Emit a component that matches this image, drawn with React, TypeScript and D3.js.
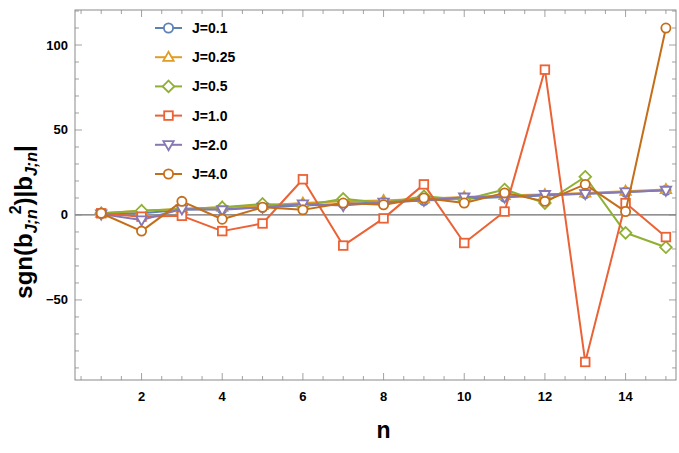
import React from "react";
import * as d3 from "d3";

// values of sgn(b^2)|b| for n = 1..15
const nValues = [1, 2, 3, 4, 5, 6, 7, 8, 9, 10, 11, 12, 13, 14, 15];
const j01 = [1, 1, 3, 3.5, 4.5, 5.5, 6.5, 7.5, 8.5, 9.5, 10.5, 11.5, 12.5, 13.5, 14.5];
const j025 = [1, 2.5, 3.5, 4.5, 5.5, 7, 8, 8.5, 9.5, 10.5, 11.5, 12, 13, 14, 15];
const j05 = [1, 2.5, 3.5, 4.5, 6.5, 5.5, 9.5, 7, 11, 9, 15, 7, 22.5, -10.5, -19];
const j10 = [1, -1, -0.5, -9.5, -5, 21, -18, -2, 18, -16.5, 2, 85.5, -86.5, 7, -13];
const j20 = [0.5, -3, 3.5, 3, 4.5, 6.5, 5.5, 7.5, 8.5, 10.5, 10.5, 12, 12.5, 13.5, 14.5];
const j40 = [1, -9.5, 8, -2.5, 4.5, 3, 7, 6, 10, 7, 13, 8, 18, 2, 110];

const seriesLabels = ["J=0.1", "J=0.25", "J=0.5", "J=1.0", "J=2.0", "J=4.0"];
const seriesValues = [j01, j025, j05, j10, j20, j40];
const colors = ["#5E81B5", "#E19C24", "#8FB032", "#EB6235", "#8778B3", "#C56E1A"];
const markers = ["circle", "up", "diamond", "square", "down", "circle"];

const xTickLabels = [2, 4, 6, 8, 10, 12, 14];
const yTickLabels = [-50, 0, 50, 100];

const W = 679;
const H = 453;
const left = 75;
const right = 676;
const top = 10;
const bottom = 380;

const Marker = ({ kind, x, y, color }) => {
  const sw = 1.8;
  if (kind === "circle")
    return <circle cx={x} cy={y} r={4.6} fill="white" stroke={color} strokeWidth={sw} />;
  if (kind === "square")
    return <rect x={x - 4.3} y={y - 4.3} width={8.6} height={8.6} fill="white" stroke={color} strokeWidth={sw} />;
  if (kind === "diamond")
    return (
      <polygon
        points={`${x},${y - 5.8} ${x + 5.8},${y} ${x},${y + 5.8} ${x - 5.8},${y}`}
        fill="white" stroke={color} strokeWidth={sw} />
    );
  const s = kind === "up" ? -1 : 1;
  return (
    <polygon
      points={`${x},${y + s * 5.5} ${x + 5.2},${y - s * 3.6} ${x - 5.2},${y - s * 3.6}`}
      fill="white" stroke={color} strokeWidth={sw} />
  );
};

export default function App() {
  const x = d3.scaleLinear().domain([0.35, 15.25]).range([left, right]);
  const y = d3.scaleLinear().domain([-97.1, 120.6]).range([bottom, top]);
  const line = d3
    .line<number>()
    .x((_, i) => x(nValues[i]))
    .y((d) => y(d));

  const xMinor = d3.range(0.5, 15.01, 0.5);
  const yMinor = d3.range(-90, 121, 10);
  const frame = "#8a8a8a";
  const fontFamily = "'Liberation Sans', Arial, sans-serif";

  return (
    <svg width={W} height={H} style={{ position: "absolute", left: 0, top: 0 }} fontFamily={fontFamily}>
      <rect width={W} height={H} fill="white" />
      {/* zero axis */}
      <line x1={left} x2={right} y1={y(0)} y2={y(0)} stroke="#6e6e6e" strokeWidth={1.2} />

      {/* series */}
      {seriesValues.map((vals, k) => (
        <g key={k}>
          <path d={line(vals) || ""} fill="none" stroke={colors[k]} strokeWidth={2} strokeLinejoin="round" />
          {vals.map((v, i) => (
            <Marker key={i} kind={markers[k]} x={x(nValues[i])} y={y(v)} color={colors[k]} />
          ))}
        </g>
      ))}

      {/* frame */}
      <rect x={left} y={top} width={right - left} height={bottom - top} fill="none" stroke={frame} strokeWidth={1} />
      {xMinor.map((t) => {
        const major = xTickLabels.includes(t);
        const len = major ? 7 : 4;
        return (
          <g key={t} stroke={frame} strokeWidth={0.8}>
            <line x1={x(t)} x2={x(t)} y1={bottom} y2={bottom - len} />
            <line x1={x(t)} x2={x(t)} y1={top} y2={top + len} />
          </g>
        );
      })}
      {yMinor.map((t) => {
        const major = yTickLabels.includes(t);
        const len = major ? 7 : 4;
        return (
          <g key={t} stroke={frame} strokeWidth={0.8}>
            <line x1={left} x2={left + len} y1={y(t)} y2={y(t)} />
            <line x1={right} x2={right - len} y1={y(t)} y2={y(t)} />
          </g>
        );
      })}
      {xTickLabels.map((t) => (
        <text key={t} x={x(t)} y={bottom + 21} textAnchor="middle" fontSize={13} fontWeight="bold">
          {t}
        </text>
      ))}
      {yTickLabels.map((t) => (
        <text key={t} x={left - 7} y={y(t) + 4.5} textAnchor="end" fontSize={13} fontWeight="bold">
          {t < 0 ? `\u2212${-t}` : t}
        </text>
      ))}

      {/* axis titles */}
      <text x={x(8)} y={438} textAnchor="middle" fontSize={23} fontWeight="bold">n</text>
      <text transform={`translate(32,222) rotate(-90)`} textAnchor="middle" fontSize={24} fontWeight="bold">
        sgn(b<tspan fontSize={16} fontStyle="italic" dy={5}>J;n</tspan>
        <tspan fontSize={16} dy={-16} dx={-5}>2</tspan>
        <tspan dy={11}>)|b</tspan>
        <tspan fontSize={16} fontStyle="italic" dy={5}>J;n</tspan>
        <tspan dy={-5}>|</tspan>
      </text>

      {/* legend */}
      {seriesLabels.map((lab, k) => {
        const ly = 28 + k * 29.2;
        return (
          <g key={lab}>
            <line x1={155} x2={182} y1={ly} y2={ly} stroke={colors[k]} strokeWidth={2} />
            <Marker kind={markers[k]} x={168.5} y={ly} color={colors[k]} />
            <text x={192} y={ly + 5} fontSize={14} fontWeight="bold">{lab}</text>
          </g>
        );
      })}
    </svg>
  );
}
